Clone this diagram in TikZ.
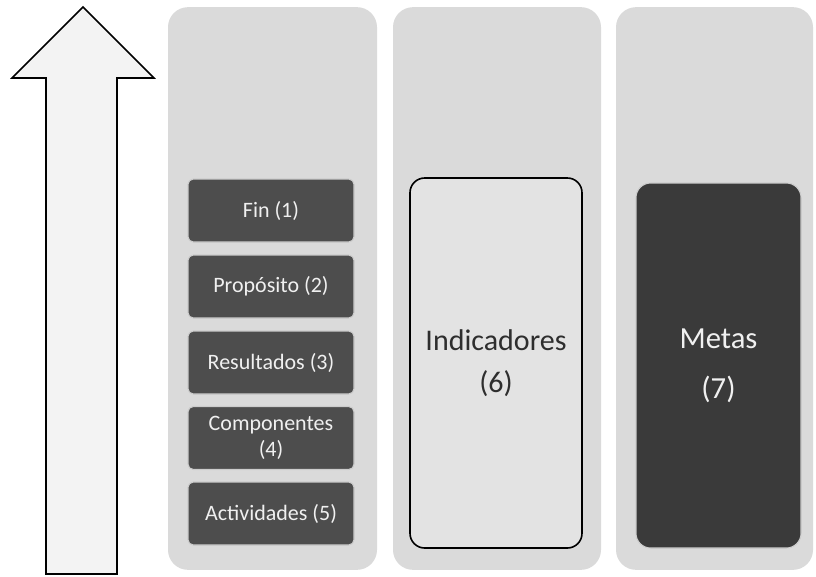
\documentclass[tikz,border=0pt]{standalone}
\usepackage{fontspec}
\setmainfont{Carlito}
\definecolor{panelgray}{HTML}{DADADA}
\definecolor{boxdark}{HTML}{4D4D4D}
\definecolor{metadark}{HTML}{3A3A3A}
\definecolor{arrowfill}{HTML}{F3F3F3}
\definecolor{textlight}{HTML}{F0F0F0}
\definecolor{textdark}{HTML}{2E2E2E}
\begin{document}
\begin{tikzpicture}[x=0.75pt,y=-0.75pt,
  panel/.style={draw=none,fill=panelgray,rounded corners=15pt,minimum height=422pt,inner sep=0pt},
  levelbox/.style={draw=white!80!black,line width=0.8pt,fill=boxdark,rounded corners=4pt,
    minimum width=124.5pt,minimum height=47.25pt,inner sep=2pt,text=textlight,
    font=\fontsize{16.5}{19.5}\selectfont,align=center},
  bigbox/.style={rounded corners=11pt,inner sep=0pt,align=center},
  arrowshape/.style={draw=black,line width=1.2pt,fill=arrowfill,line join=miter}]
\useasboundingbox (0,0) rectangle (816,576);
\fill[white] (0,0) rectangle (816,576);
% big upward arrow
\draw[arrowshape] (83,7) -- (154,78) -- (117,78) -- (117,574) -- (46,574) -- (46,78) -- (12,78) -- cycle;
% panels
\node[panel,minimum width=156.75pt] (p1) at (272.5,288.5) {};
\node[panel,minimum width=156pt] (p2) at (497,288.5) {};
\node[panel,minimum width=147.75pt] (p3) at (714.5,288.5) {};
% level boxes
\node[levelbox] (fin) at (271,210.5) {Fin (1)};
\node[levelbox] (prop) at (271,286.5) {Propósito (2)};
\node[levelbox] (res) at (271,362.5) {Resultados (3)};
\node[levelbox] (comp) at (271,438) {Componentes\\(4)};
\node[levelbox] (act) at (271,513.5) {Actividades (5)};
% indicators and goals
\node[bigbox,draw=black,line width=1.2pt,fill=panelgray!75!white,text=textdark,
  font=\fontsize{22.5}{31}\selectfont,
  minimum width=129pt,minimum height=277.5pt] (ind) at (496,363) {Indicadores\\(6)};
\node[bigbox,draw=white!80!black,line width=0.8pt,fill=metadark,text=textlight,
  font=\fontsize{23}{37.5}\selectfont,
  minimum width=123.75pt,minimum height=273.75pt] (met) at (718.5,365.5) {Metas\\(7)};
\end{tikzpicture}
\end{document}
